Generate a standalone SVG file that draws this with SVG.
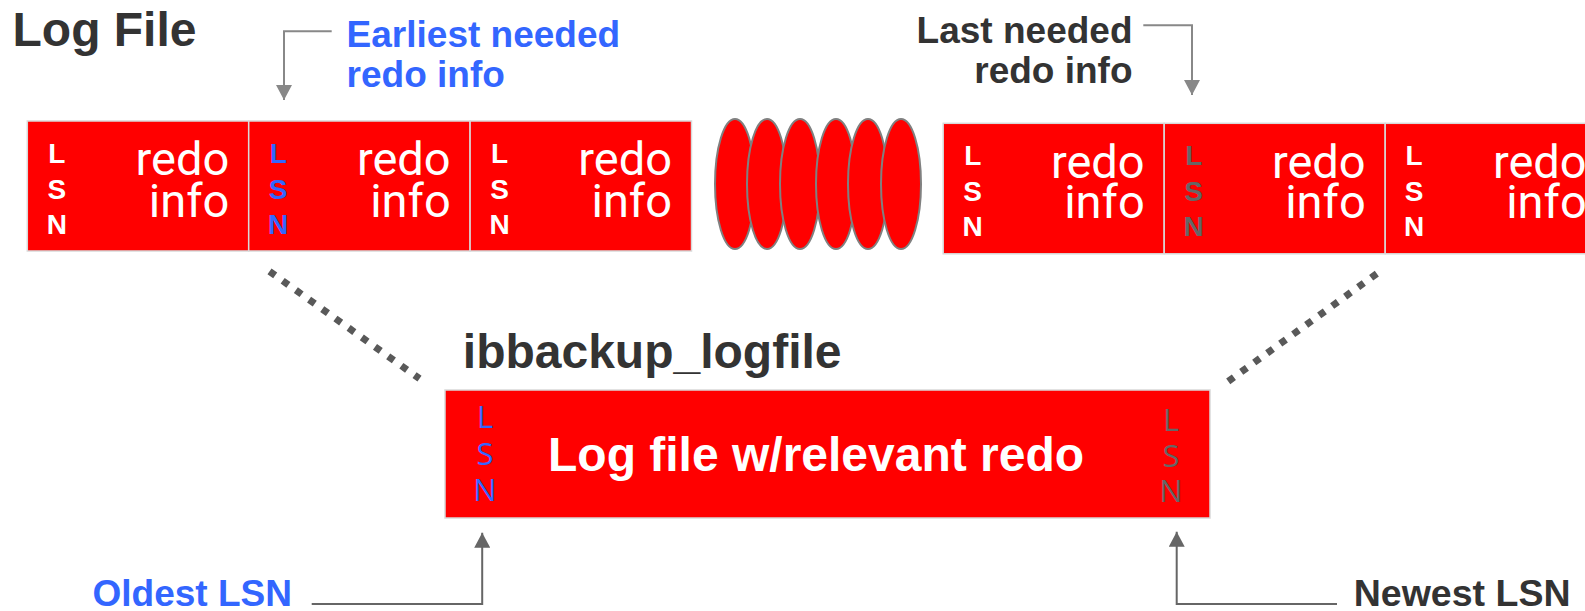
<svg xmlns="http://www.w3.org/2000/svg" width="1585" height="611" viewBox="0 0 1585 611">
<style>
.lbl{font-family:"Liberation Sans",Arial,sans-serif;font-weight:bold;}
.cell{fill:#ff0000;stroke:#d9d9d9;stroke-width:1.5;}
.lsn{font-family:"Liberation Sans",Arial,sans-serif;font-weight:bold;font-size:28px;text-anchor:middle;}
.ri{font-family:Roboto,"Liberation Sans",sans-serif;font-size:47px;fill:#ffffff;text-anchor:end;}
.blsn{font-family:"Open Sans","Liberation Sans",sans-serif;font-size:31px;text-anchor:middle;}
.ell{fill:#ff0000;stroke:#808080;stroke-width:2;}
.dots{fill:none;stroke:#595959;stroke-width:7;}
.arr1{fill:none;stroke:#888888;stroke-width:2;}
.arr2{fill:none;stroke:#666666;stroke-width:2;}
</style>
<defs>
<marker id="ah1" markerUnits="userSpaceOnUse" markerWidth="16" markerHeight="16" refX="15" refY="8" orient="auto"><path d="M0,0 L15,8 L0,16 z" fill="#888888"/></marker>
<marker id="ah2" markerUnits="userSpaceOnUse" markerWidth="16" markerHeight="16" refX="15" refY="8" orient="auto"><path d="M0,0 L15,8 L0,16 z" fill="#666666"/></marker>
</defs>
<rect width="1585" height="611" fill="#ffffff"/>

<g id="title">
<text class="lbl" x="12.5" y="45.5" font-size="48" fill="#333333">Log File</text>
</g>

<g id="earliest-label">
<text class="lbl" x="346.6" y="46.5" font-size="37" fill="#3366ff">Earliest needed</text>
<text class="lbl" x="346.6" y="87" font-size="37" fill="#3366ff">redo info</text>
</g>

<g id="last-label">
<text class="lbl" x="1132.5" y="43.3" font-size="37" fill="#333333" text-anchor="end">Last needed</text>
<text class="lbl" x="1132.5" y="82.7" font-size="37" fill="#333333" text-anchor="end">redo info</text>
</g>

<g id="log-left">
<rect class="cell" x="27.3" y="121" width="221.4" height="130"/>
<text class="lsn" x="56.8" y="163" fill="#ffffff">L</text>
<text class="lsn" x="56.8" y="199" fill="#ffffff">S</text>
<text class="lsn" x="56.8" y="234" fill="#ffffff">N</text>
<text class="ri" x="229.3" y="175">redo</text>
<text class="ri" x="229.3" y="216.5">info</text>
<rect class="cell" x="248.7" y="121" width="221.4" height="130"/>
<text class="lsn" x="278.2" y="163" fill="#3366ff">L</text>
<text class="lsn" x="278.2" y="199" fill="#3366ff">S</text>
<text class="lsn" x="278.2" y="234" fill="#3366ff">N</text>
<text class="ri" x="450.7" y="175">redo</text>
<text class="ri" x="450.7" y="216.5">info</text>
<rect class="cell" x="470.1" y="121" width="221.4" height="130"/>
<text class="lsn" x="499.6" y="163" fill="#ffffff">L</text>
<text class="lsn" x="499.6" y="199" fill="#ffffff">S</text>
<text class="lsn" x="499.6" y="234" fill="#ffffff">N</text>
<text class="ri" x="672" y="175">redo</text>
<text class="ri" x="672" y="216.5">info</text>
</g>

<g id="ellipses">
<ellipse class="ell" cx="735" cy="184" rx="20" ry="65"/>
<ellipse class="ell" cx="767" cy="184" rx="20" ry="65"/>
<ellipse class="ell" cx="800" cy="184" rx="20" ry="65"/>
<ellipse class="ell" cx="836" cy="184" rx="20" ry="65"/>
<ellipse class="ell" cx="868" cy="184" rx="20" ry="65"/>
<ellipse class="ell" cx="901" cy="184" rx="20" ry="65"/>
</g>

<g id="log-right">
<rect class="cell" x="943.2" y="123.3" width="221" height="130.5"/>
<text class="lsn" x="972.7" y="165.3" fill="#ffffff">L</text>
<text class="lsn" x="972.7" y="200.5" fill="#ffffff">S</text>
<text class="lsn" x="972.7" y="236" fill="#ffffff">N</text>
<text class="ri" x="1144.7" y="178">redo</text>
<text class="ri" x="1144.7" y="218">info</text>
<rect class="cell" x="1164.2" y="123.3" width="221" height="130.5"/>
<text class="lsn" x="1193.7" y="165.3" fill="#666666">L</text>
<text class="lsn" x="1193.7" y="200.5" fill="#666666">S</text>
<text class="lsn" x="1193.7" y="236" fill="#666666">N</text>
<text class="ri" x="1365.7" y="178">redo</text>
<text class="ri" x="1365.7" y="218">info</text>
<rect class="cell" x="1385.2" y="123.3" width="221" height="130.5"/>
<text class="lsn" x="1414" y="165.3" fill="#ffffff">L</text>
<text class="lsn" x="1414" y="200.5" fill="#ffffff">S</text>
<text class="lsn" x="1414" y="236" fill="#ffffff">N</text>
<text class="ri" x="1586.7" y="178">redo</text>
<text class="ri" x="1586.7" y="218">info</text>
</g>

<g id="ibbackup-logfile">
<text class="lbl" x="462.8" y="368" font-size="48" fill="#333333">ibbackup_logfile</text>
<rect class="cell" x="445" y="390" width="765" height="128"/>
<text class="blsn" x="485" y="428.3" fill="#3366ff">L</text>
<text class="blsn" x="485" y="465" fill="#3366ff">S</text>
<text class="blsn" x="485" y="501" fill="#3366ff">N</text>
<text class="lbl" x="548" y="470.7" font-size="48" fill="#ffffff">Log file w/relevant redo</text>
<text class="blsn" x="1171" y="430.7" fill="#666666">L</text>
<text class="blsn" x="1171" y="467.3" fill="#666666">S</text>
<text class="blsn" x="1171" y="501.7" fill="#666666">N</text>
</g>

<g id="oldest-label">
<text class="lbl" x="92.5" y="606" font-size="37" fill="#3366ff">Oldest LSN</text>
</g>

<g id="newest-label">
<text class="lbl" x="1570.5" y="606" font-size="37.5" fill="#333333" text-anchor="end">Newest LSN</text>
</g>

<g id="connectors">
<path class="arr1" d="M331.7,31.3 H284 V100" marker-end="url(#ah1)"/>
<path class="arr1" d="M1143.3,25.3 H1192 V95" marker-end="url(#ah1)"/>
<line class="dots" x1="269.5" y1="271.3" x2="419.5" y2="378.7" stroke-dasharray="7 9.22"/>
<line class="dots" x1="1376.8" y1="273.6" x2="1228.2" y2="381.4" stroke-dasharray="7 9.05"/>
<path class="arr2" d="M311.7,604 H482.2 V532.7" marker-end="url(#ah2)"/>
<path class="arr2" d="M1337,604 H1176.7 V531.7" marker-end="url(#ah2)"/>
</g>
</svg>
